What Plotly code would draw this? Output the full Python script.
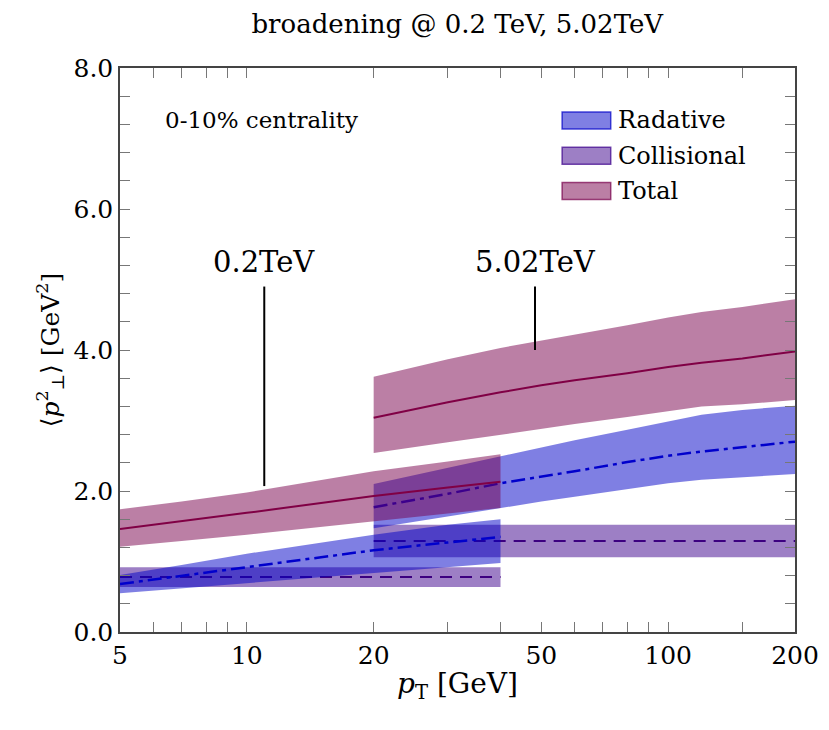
import math
import plotly.graph_objects as go

# 0.2 TeV (pT 5 - 40 GeV)
pt_low = [5, 7, 10, 15, 20, 30, 40]
tot_low_mid = [1.46, 1.57, 1.69, 1.83, 1.93, 2.05, 2.13]
tot_low_hi = [1.74, 1.85, 1.98, 2.15, 2.28, 2.42, 2.52]
tot_low_lo = [1.21, 1.29, 1.38, 1.49, 1.57, 1.68, 1.76]
rad_low_mid = [0.68, 0.80, 0.92, 1.06, 1.16, 1.27, 1.35]
rad_low_hi = [0.81, 0.95, 1.11, 1.27, 1.38, 1.52, 1.60]
rad_low_lo = [0.55, 0.62, 0.70, 0.78, 0.84, 0.92, 0.98]
col_low_mid = [0.78] * 7
col_low_hi = [0.92] * 7
col_low_lo = [0.64] * 7

# 5.02 TeV (pT 20 - 200 GeV)
pt_high = [20, 30, 40, 50, 60, 80, 100, 120, 150, 200]
tot_high_mid = [3.04, 3.26, 3.40, 3.50, 3.57, 3.67, 3.76, 3.82, 3.88, 3.98]
tot_high_hi = [3.62, 3.87, 4.03, 4.13, 4.22, 4.35, 4.46, 4.54, 4.61, 4.72]
tot_high_lo = [2.54, 2.69, 2.80, 2.88, 2.95, 3.05, 3.13, 3.20, 3.23, 3.29]
rad_high_mid = [1.77, 1.96, 2.11, 2.20, 2.28, 2.41, 2.50, 2.56, 2.62, 2.70]
rad_high_hi = [2.10, 2.33, 2.50, 2.62, 2.72, 2.87, 2.99, 3.08, 3.15, 3.21]
rad_high_lo = [1.47, 1.64, 1.76, 1.85, 1.92, 2.03, 2.11, 2.16, 2.19, 2.24]
col_high_mid = [1.29] * 10
col_high_hi = [1.52] * 10
col_high_lo = [1.06] * 10

x_ticks = [5, 6, 7, 8, 9, 10, 20, 30, 40, 50, 60, 70, 80, 90, 100, 150, 200]
x_labels = ["5", "", "", "", "", "10", "20", "", "", "50", "", "", "", "", "100", "", "200"]
y_ticks = [i * 0.4 for i in range(21)]
y_labels = [f"{v:.1f}" if abs(v / 2 - round(v / 2)) < 1e-6 else "" for v in y_ticks]

legend_names = ["Radative", "Collisional", "Total"]

FONT = "DejaVu Serif"

styles = {
    "Radative": dict(fill="rgba(0,0,200,0.5)", edge="rgba(0,0,200,0.7)", line="#0000cc",
                     dash="14px,5px,4px,5px", width=2.5),
    "Collisional": dict(fill="rgba(60,0,140,0.5)", edge="rgba(60,0,140,0.7)", line="#3c0080",
                        dash="12px,8px", width=2),
    "Total": dict(fill="rgba(120,0,75,0.5)", edge="rgba(120,0,75,0.7)", line="#800045",
                  dash="solid", width=2),
}

series = [
    ("Collisional", pt_low, col_low_lo, col_low_hi, col_low_mid),
    ("Collisional", pt_high, col_high_lo, col_high_hi, col_high_mid),
    ("Radative", pt_low, rad_low_lo, rad_low_hi, rad_low_mid),
    ("Radative", pt_high, rad_high_lo, rad_high_hi, rad_high_mid),
    ("Total", pt_low, tot_low_lo, tot_low_hi, tot_low_mid),
    ("Total", pt_high, tot_high_lo, tot_high_hi, tot_high_mid),
]

fig = go.Figure()
for name, x, lo, hi, mid in series:
    st = styles[name]
    fig.add_trace(go.Scatter(
        x=list(x) + list(x)[::-1], y=list(hi) + list(lo)[::-1],
        fill="toself", fillcolor=st["fill"], mode="lines",
        line=dict(width=0), name=name, showlegend=False, hoverinfo="skip",
    ))
    fig.add_trace(go.Scatter(
        x=x, y=mid, mode="lines",
        line=dict(color=st["line"], width=st["width"], dash=st["dash"]),
        name=name, showlegend=False,
    ))

# pointers to the two energy groups
fig.add_trace(go.Scatter(x=[11, 11], y=[4.9, 2.07], mode="lines",
                         line=dict(color="black", width=2), showlegend=False))
fig.add_trace(go.Scatter(x=[48.3, 48.3], y=[4.9, 4.0], mode="lines",
                         line=dict(color="black", width=2), showlegend=False))

txt = dict(family=FONT, color="black")
fig.add_annotation(x=math.log10(11), y=4.98, xref="x", yref="y", text="0.2TeV", showarrow=False,
                   yanchor="bottom", font=dict(size=29, **txt))
fig.add_annotation(x=math.log10(48.3), y=4.98, xref="x", yref="y", text="5.02TeV", showarrow=False,
                   yanchor="bottom", font=dict(size=29, **txt))
fig.add_annotation(x=0.064, y=0.907, xref="paper", yref="paper", text="0-10% centrality",
                   showarrow=False, xanchor="left", yanchor="middle", font=dict(size=23, **txt))

# hand-made legend (filled boxes like the reference)
for i, name in enumerate(legend_names):
    st = styles[name]
    yc = 0.907 - i * 0.0625
    fig.add_shape(type="rect", xref="paper", yref="paper",
                  x0=0.655, x1=0.727, y0=yc - 0.015, y1=yc + 0.015,
                  fillcolor=st["fill"], line=dict(color=st["edge"], width=1.5))
    fig.add_annotation(x=0.735, y=yc, xref="paper", yref="paper", text=name, showarrow=False,
                       xanchor="left", yanchor="middle", font=dict(size=24, **txt))

axis_common = dict(
    ticks="inside", ticklen=10, tickcolor="#777", tickwidth=1,
    showline=True, linecolor="#444", linewidth=1.5, mirror="ticks",
    showgrid=False, zeroline=False,
    tickfont=dict(size=25, **txt),
)

fig.update_layout(
    width=829, height=730,
    margin=dict(l=112, r=42, t=60, b=106),
    paper_bgcolor="white", plot_bgcolor="white",
    title=dict(text="broadening @ 0.2 TeV, 5.02TeV", x=0.542, xanchor="center",
               y=0.978, yanchor="middle", font=dict(size=26, **txt)),
    xaxis=dict(type="log", range=[math.log10(5), math.log10(200)], tickmode="array",
               tickvals=x_ticks, ticktext=x_labels,
               title=dict(text="<i>p</i><sub>T</sub> [GeV]", standoff=5, font=dict(size=28, **txt)),
               **axis_common),
    yaxis=dict(range=[0, 8], tickmode="array", tickvals=y_ticks, ticktext=y_labels,
               title=dict(text="⟨<i>p</i><sup>2</sup><sub>⊥</sub>⟩ [GeV<sup>2</sup>]", standoff=7,
                          font=dict(size=25, **txt)),
               **axis_common),
    showlegend=False,
)

fig.write_html("out.html")
